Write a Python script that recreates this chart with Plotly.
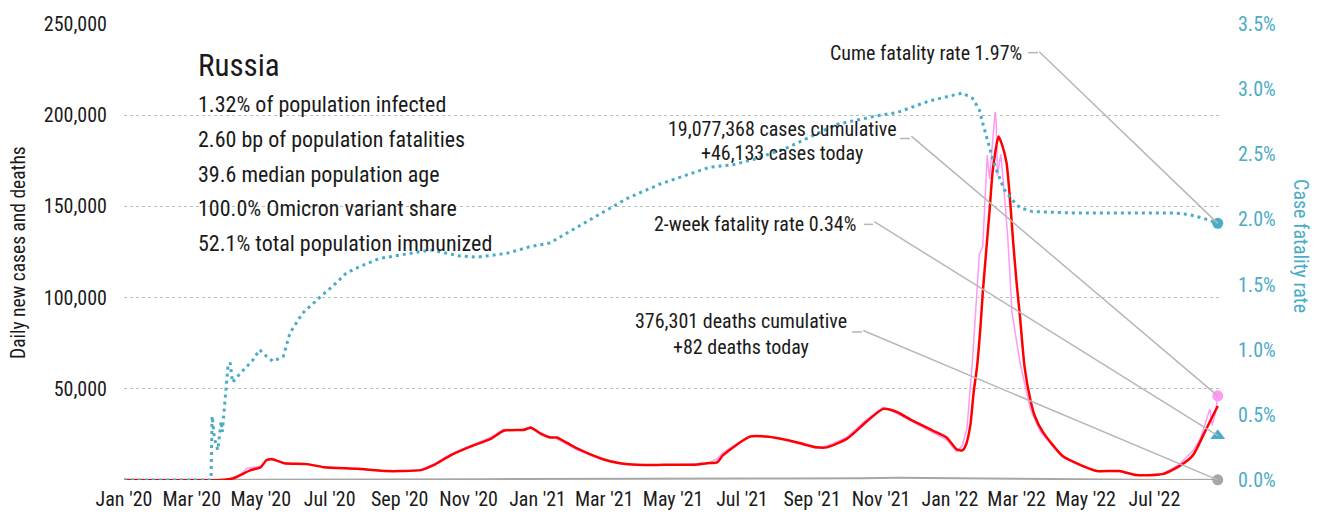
import plotly.graph_objects as go

# ---- daily new cases, 7-day average (red) ----
avg_dates = [
    "2020-01-01", "2020-03-27", "2020-04-07", "2020-04-22", "2020-05-01", "2020-05-06",
    "2020-05-11", "2020-05-22", "2020-06-11", "2020-06-26", "2020-07-25", "2020-08-21",
    "2020-09-02", "2020-09-20", "2020-10-01", "2020-10-16", "2020-11-03", "2020-11-21",
    "2020-12-02", "2020-12-20", "2020-12-26", "2021-01-04", "2021-01-12", "2021-01-18",
    "2021-02-05", "2021-02-28", "2021-03-15", "2021-03-30", "2021-04-22", "2021-05-20",
    "2021-05-31", "2021-06-09", "2021-06-14", "2021-07-08", "2021-07-23", "2021-08-03",
    "2021-08-19", "2021-09-05", "2021-09-14", "2021-10-02", "2021-10-19", "2021-11-03",
    "2021-11-15", "2021-11-29", "2021-12-17", "2021-12-29", "2022-01-07", "2022-01-12",
    "2022-01-15", "2022-01-19", "2022-01-22", "2022-01-25", "2022-01-28", "2022-01-30",
    "2022-02-05", "2022-02-08", "2022-02-13", "2022-02-16", "2022-02-20", "2022-02-23",
    "2022-02-26", "2022-03-01", "2022-03-04", "2022-03-08", "2022-03-13", "2022-03-17",
    "2022-03-24", "2022-04-11", "2022-04-29", "2022-05-11", "2022-05-31", "2022-06-15",
    "2022-07-08", "2022-07-23", "2022-08-04", "2022-08-13", "2022-08-19", "2022-08-26",
]
avg_cases = [
    0, 0, 1000, 5400, 7000, 10800,
    11400, 9200, 8700, 7000, 6100, 4900,
    4900, 5400, 8100, 13500, 18400, 22700,
    27000, 27600, 28700, 25400, 23300, 23300,
    17300, 11400, 9200, 8300, 8300, 8400,
    9200, 9700, 13500, 23800, 23800, 22700,
    20600, 17900, 17900, 22700, 31900, 39000,
    37300, 32500, 27000, 23300, 16800, 16200,
    19000, 29800, 48200, 62200, 83900, 102300,
    147200, 170400, 188300, 184000, 174200, 155000,
    130000, 108000, 89300, 62200, 44400, 35200,
    26500, 13000, 7600, 4900, 4900, 2700,
    3200, 7600, 13500, 24300, 31900, 40600,
]

# ---- daily new cases, reported (pink) ----
daily_dates = [
    "2020-01-01", "2020-03-27", "2020-04-05", "2020-04-14", "2020-04-19", "2020-05-01",
    "2020-05-06", "2020-05-11", "2020-05-22", "2020-06-11", "2020-06-26", "2020-07-25",
    "2020-08-21", "2020-09-02", "2020-09-20", "2020-10-01", "2020-10-16", "2020-11-03",
    "2020-11-21", "2020-12-02", "2020-12-20", "2020-12-26", "2021-01-04", "2021-01-12",
    "2021-01-18", "2021-02-05", "2021-02-28", "2021-03-15", "2021-03-30", "2021-04-22",
    "2021-05-20", "2021-05-31", "2021-06-09", "2021-06-14", "2021-07-08", "2021-07-23",
    "2021-08-03", "2021-08-19", "2021-09-05", "2021-09-14", "2021-10-02", "2021-10-19",
    "2021-11-03", "2021-11-15", "2021-11-29", "2021-12-17", "2021-12-29", "2022-01-07",
    "2022-01-12", "2022-01-16", "2022-01-21", "2022-01-27", "2022-01-30", "2022-02-03",
    "2022-02-05", "2022-02-10", "2022-02-11", "2022-02-12", "2022-02-15", "2022-02-17",
    "2022-02-21", "2022-02-25", "2022-03-04", "2022-03-13", "2022-03-22", "2022-03-31",
    "2022-04-11", "2022-04-29", "2022-05-11", "2022-05-31", "2022-06-15", "2022-07-08",
    "2022-07-23", "2022-08-04", "2022-08-10", "2022-08-13", "2022-08-16", "2022-08-19",
    "2022-08-21", "2022-08-24", "2022-08-26",
]
daily_cases = [
    0, 0, 800, 3500, 6500, 7500,
    11200, 12000, 9000, 8900, 7200, 6000,
    4700, 5000, 5800, 8600, 14200, 19000,
    23500, 27800, 27000, 29200, 24500, 23800,
    22600, 16600, 11000, 8900, 8400, 8100,
    8600, 9000, 11500, 15000, 24300, 23500,
    23000, 20000, 17400, 18600, 23500, 33000,
    40000, 36500, 31800, 26000, 22000, 15500,
    19000, 28100, 66000, 123900, 128000, 178000,
    165000, 201800, 195900, 167000, 178600, 165000,
    134700, 91400, 64400, 39000, 26500, 20000,
    12500, 7200, 5000, 4600, 2500, 3400,
    8500, 16000, 22000, 27000, 33000, 39000,
    30000, 37000, 46133,
]

# ---- daily deaths (grey) ----
death_dates = [
    "2020-01-01", "2020-03-27", "2020-04-20", "2020-05-15", "2020-06-15", "2020-07-15",
    "2020-08-15", "2020-09-15", "2020-10-15", "2020-11-15", "2020-12-15", "2021-01-15",
    "2021-02-15", "2021-03-15", "2021-04-15", "2021-05-15", "2021-06-15", "2021-07-15",
    "2021-08-15", "2021-09-15", "2021-10-15", "2021-11-15", "2021-12-15", "2022-01-15",
    "2022-02-15", "2022-03-15", "2022-04-15", "2022-05-15", "2022-06-15", "2022-07-15",
    "2022-08-26",
]
daily_deaths = [
    0, 0, 50, 130, 160, 130,
    100, 110, 250, 400, 550, 550,
    430, 370, 360, 360, 450, 760,
    790, 780, 1000, 1220, 1050, 680,
    690, 460, 250, 130, 70, 50,
    82,
]

# ---- cumulative case fatality rate, % (teal) ----
cfr_dates = [
    "2020-01-01", "2020-03-18", "2020-03-19", "2020-03-21", "2020-03-24", "2020-03-27",
    "2020-03-28", "2020-03-31", "2020-04-02", "2020-04-04", "2020-04-06", "2020-04-12",
    "2020-04-24", "2020-04-30", "2020-05-06", "2020-05-12", "2020-05-21", "2020-05-27",
    "2020-06-07", "2020-06-22", "2020-07-04", "2020-07-16", "2020-07-28", "2020-08-14",
    "2020-09-07", "2020-09-28", "2020-10-07", "2020-10-24", "2020-11-08", "2020-11-17",
    "2020-12-05", "2020-12-25", "2021-01-12", "2021-01-30", "2021-02-25", "2021-03-21",
    "2021-04-19", "2021-05-13", "2021-06-02", "2021-06-23", "2021-07-11", "2021-08-10",
    "2021-09-08", "2021-09-23", "2021-10-31", "2021-11-15", "2021-12-14", "2022-01-12",
    "2022-01-21", "2022-01-27", "2022-01-30", "2022-02-03", "2022-02-08", "2022-02-12",
    "2022-02-18", "2022-02-25", "2022-03-04", "2022-03-15", "2022-04-20", "2022-07-17",
    "2022-07-30", "2022-08-13", "2022-08-26",
]
cfr_pct = [
    0, 0, 0.49, 0.32, 0.23, 0.45,
    0.37, 0.67, 0.87, 0.90, 0.75, 0.81,
    0.92, 1.00, 0.95, 0.91, 0.95, 1.13,
    1.28, 1.40, 1.49, 1.59, 1.64, 1.70,
    1.735, 1.765, 1.75, 1.72, 1.71, 1.72,
    1.74, 1.79, 1.82, 1.91, 2.04, 2.16,
    2.27, 2.34, 2.40, 2.42, 2.46, 2.55,
    2.67, 2.73, 2.80, 2.82, 2.91, 2.97,
    2.93, 2.84, 2.74, 2.61, 2.46, 2.36,
    2.23, 2.15, 2.09, 2.06, 2.05, 2.05,
    2.04, 2.01, 1.97,
]

two_week_cfr = 0.34

# ---- text ----
country = "Russia"
facts = [
    "1.32% of population infected",
    "2.60 bp of population fatalities",
    "39.6 median population age",
    "100.0% Omicron variant share",
    "52.1% total population immunized",
]
cases_text = ["19,077,368 cases cumulative", "+46,133 cases today"]
deaths_text = ["376,301 deaths cumulative", "+82 deaths today"]
cume_text = "Cume fatality rate 1.97%"
twoweek_text = "2-week fatality rate 0.34%"

FONT = "Liberation Sans Narrow, Roboto Condensed, DejaVu Sans Condensed, Arial Narrow, sans-serif"
TEAL = "#4bacc6"
PINK = "#ff99f5"
RED = "#ff0000"
GREY = "#a6a6a6"
LEADER = "#b7b7b7"
INK = "#1a1a1a"

W, H = 1321, 523
L, R, T, B = 124, 101, 20, 41
PW, PH = W - L - R, H - T - B


def px(xp):
    return (xp - L) / PW


def py(yp):
    return 1 - (yp - T) / PH


fig = go.Figure()

fig.add_trace(go.Scatter(x=death_dates, y=daily_deaths, mode="lines",
                         line=dict(color=GREY, width=2), yaxis="y", hoverinfo="skip"))
fig.add_trace(go.Scatter(x=daily_dates, y=daily_cases, mode="lines",
                         line=dict(color=PINK, width=1.5), yaxis="y", hoverinfo="skip"))
fig.add_trace(go.Scatter(x=avg_dates, y=avg_cases, mode="lines",
                         line=dict(color=RED, width=2.5, shape="spline", smoothing=0.6),
                         yaxis="y", hoverinfo="skip"))
fig.add_trace(go.Scatter(x=cfr_dates, y=cfr_pct, mode="lines",
                         line=dict(color=TEAL, width=3, dash="3px,4px"), yaxis="y2",
                         hoverinfo="skip"))

last = avg_dates[-1]
# end-point markers
fig.add_trace(go.Scatter(x=[daily_dates[-1]], y=[daily_cases[-1]], mode="markers",
                         marker=dict(color=PINK, size=11), yaxis="y", hoverinfo="skip",
                         cliponaxis=False))
fig.add_trace(go.Scatter(x=[death_dates[-1]], y=[daily_deaths[-1]], mode="markers",
                         marker=dict(color=GREY, size=11), yaxis="y", hoverinfo="skip",
                         cliponaxis=False))
fig.add_trace(go.Scatter(x=[cfr_dates[-1]], y=[cfr_pct[-1]], mode="markers",
                         marker=dict(color=TEAL, size=11), yaxis="y2", hoverinfo="skip",
                         cliponaxis=False))
fig.add_trace(go.Scatter(x=[last], y=[two_week_cfr], mode="markers",
                         marker=dict(color=TEAL, size=13, symbol="triangle-up"),
                         yaxis="y2", hoverinfo="skip", cliponaxis=False))

annotations = []
shapes = []

# title block
annotations.append(dict(text=country, x=px(196), y=py(62), xref="paper", yref="paper",
                        xanchor="left", yanchor="middle", showarrow=False,
                        font=dict(family=FONT, size=31, color=INK)))
for i, line in enumerate(facts):
    annotations.append(dict(text=line, x=px(196), y=py(102 + 35 * i), xref="paper", yref="paper",
                            xanchor="left", yanchor="middle", showarrow=False,
                            font=dict(family=FONT, size=22, color=INK)))

# axis titles
annotations.append(dict(text="Daily new cases and deaths", x=px(19), y=py(252),
                        xref="paper", yref="paper", textangle=-90, showarrow=False,
                        xanchor="center", yanchor="middle",
                        font=dict(family=FONT, size=19.5, color=INK)))
annotations.append(dict(text="Case fatality rate", x=px(1301), y=py(245),
                        xref="paper", yref="paper", textangle=90, showarrow=False,
                        xanchor="center", yanchor="middle",
                        font=dict(family=FONT, size=20, color=TEAL)))

tfont = dict(family=FONT, size=20, color=INK)


def callout(lines, cx, ys, anchor, stub, tip_x, tip_y, yref, tail):
    for line, yy in zip(lines, ys):
        annotations.append(dict(text=line, x=px(cx), y=py(yy), xref="paper", yref="paper",
                                xanchor=anchor, yanchor="middle", showarrow=False, font=tfont))
    sx0, sx1, sy = stub
    shapes.append(dict(type="line", xref="paper", yref="paper", x0=px(sx0), x1=px(sx1),
                       y0=py(sy), y1=py(sy), line=dict(color=LEADER, width=1.5)))
    annotations.append(dict(text="", x=tip_x, y=tip_y, xref="x", yref=yref,
                            ax=tail[0], ay=tail[1], axref="pixel", ayref="pixel",
                            showarrow=True, arrowhead=0, arrowwidth=1.5, arrowcolor=LEADER,
                            standoff=0, startstandoff=0))


callout([cume_text], 1024, [49], "right", (1028, 1038, 49),
        cfr_dates[-1], cfr_pct[-1], "y2", (1038 - 1218, 49 - 222))
callout(cases_text, 782, [126, 151], "center", (900, 910, 136),
        daily_dates[-1], daily_cases[-1], "y", (910 - 1218, 136 - 397))
callout([twoweek_text], 858, [223], "right", (864, 873, 223),
        last, two_week_cfr, "y2", (873 - 1218, 223 - 438))
callout(deaths_text, 741, [321, 347], "center", (852, 862, 332),
        death_dates[-1], daily_deaths[-1], "y", (862 - 1218, 332 - 482))

fig.update_layout(
    width=W, height=H,
    margin=dict(l=L, r=R, t=T, b=B, pad=0),
    paper_bgcolor="white", plot_bgcolor="white",
    showlegend=False,
    font=dict(family=FONT, size=20, color=INK),
    xaxis=dict(type="date", range=["2020-01-01", "2022-08-28"],
               tick0="2020-01-01", dtick="M2", tickformat="%b '%y",
               showgrid=False, zeroline=False, showline=False, ticks="",
               tickfont=dict(family=FONT, size=20, color=INK), ticklabelstandoff=5),
    yaxis=dict(range=[0, 250000], tickvals=[50000, 100000, 150000, 200000, 250000],
               tickformat=",", showgrid=True, gridcolor="#bdbdbd", griddash="dot", gridwidth=1,
               zeroline=False, showline=False, ticks="",
               tickfont=dict(family=FONT, size=20, color=INK), ticklabelstandoff=16),
    yaxis2=dict(range=[0, 3.5], overlaying="y", side="right", dtick=0.5,
                tickformat=".1f", ticksuffix="%", showgrid=False, zeroline=False,
                showline=False, ticks="",
                tickfont=dict(family=FONT, size=20, color=TEAL), ticklabelstandoff=17),
    annotations=annotations,
    shapes=shapes,
)

fig.write_html("out.html")
